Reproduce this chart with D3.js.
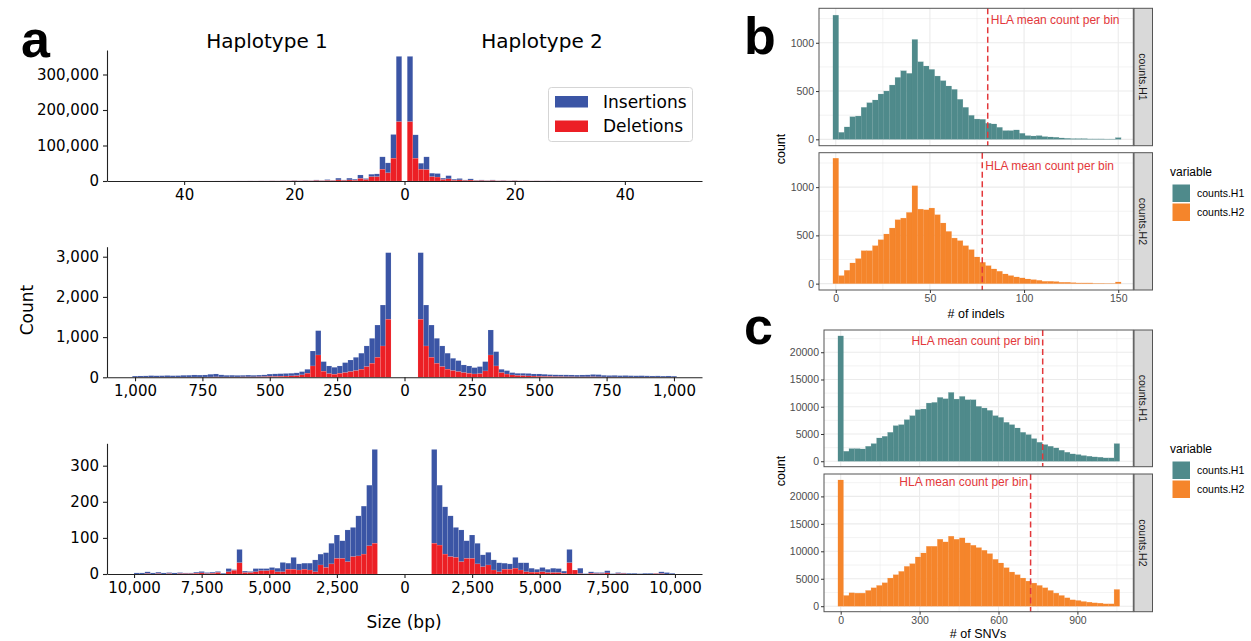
<!DOCTYPE html>
<html>
<head>
<meta charset="utf-8">
<script src="https://cdn.jsdelivr.net/npm/d3@7"></script>
<style>
  body { margin: 0; background: #fff; }
  svg { display: block; }
</style>
</head>
<body>
<svg id="fig" width="1251" height="641"></svg>
<script>
// ---------- panel a : indel size histograms (totals = stacked top, del = red part) ----------
const topSizes = d3.range(1, 41);            // 1 bp bins, centred on the size
const topH1Total = [351000, 131000, 51000, 68000, 20000, 19000, 7000, 17000, 5000, 8000,
  3000, 8000, 2000, 4000, 1500, 3000, 1200, 1500, 800, 1500, 700, 900, 500, 700, 400,
  500, 300, 400, 250, 300, 200, 200, 150, 150, 100, 120, 80, 90, 60, 70];
const topH1Del = [167000, 64000, 23000, 33000, 12000, 12000, 4000, 7000, 2000, 3000,
  1500, 3000, 1000, 1500, 700, 1200, 500, 600, 300, 600, 300, 400, 200, 300, 150,
  200, 100, 150, 100, 100, 80, 80, 60, 60, 40, 50, 30, 40, 20, 30];
const topH2Total = [351000, 130000, 50000, 68000, 22000, 21000, 8000, 15000, 5000, 7000,
  3000, 6000, 2000, 3000, 1500, 3000, 1000, 1500, 800, 1500, 600, 900, 500, 700, 400,
  500, 300, 400, 250, 300, 200, 200, 150, 150, 100, 120, 80, 90, 60, 70];
const topH2Del = [167000, 64000, 33000, 32000, 12000, 11000, 4000, 6000, 2000, 3000,
  1500, 2500, 1000, 1200, 700, 1200, 500, 600, 300, 600, 300, 400, 200, 300, 150,
  200, 100, 150, 100, 100, 80, 80, 60, 60, 40, 50, 30, 40, 20, 30];

const midStarts = d3.range(50, 1000, 20);    // 20 bp bins, 50..1010
const midH1Total = [3100, 1798, 1300, 970, 780, 600, 497, 430, 365, 282, 249, 282, 390, 1160, 654,
  199, 141, 110, 100, 95, 90, 85, 80, 60, 55, 50, 55, 50, 48, 52, 50, 60, 83, 75, 58, 55,
  58, 52, 50, 42, 40, 45, 40, 38, 42, 35, 33, 30];
const midH1Del = [1443, 779, 497, 348, 265, 200, 166, 141, 116, 99, 75, 90, 150, 555, 282,
  100, 60, 40, 35, 30, 25, 20, 20, 15, 12, 10, 10, 10, 8, 8, 8, 8, 10, 8, 6, 6,
  6, 5, 5, 4, 4, 4, 4, 3, 3, 3, 3, 3];
const midH2Total = [3100, 1798, 1300, 970, 780, 600, 473, 415, 307, 282, 241, 266, 390, 1177, 638,
  199, 166, 116, 99, 99, 95, 83, 83, 75, 66, 62, 60, 60, 58, 55, 58, 60, 70, 66, 50, 45,
  48, 42, 45, 40, 38, 40, 36, 33, 35, 30, 33, 28];
const midH2Del = [1443, 779, 497, 348, 265, 200, 166, 141, 116, 99, 83, 90, 158, 555, 282,
  116, 80, 58, 45, 40, 35, 30, 25, 20, 20, 15, 15, 12, 12, 10, 10, 10, 12, 10, 8, 8,
  8, 6, 6, 6, 5, 5, 5, 5, 5, 4, 4, 4];

const lowStarts = d3.range(1000, 10000, 200); // 200 bp bins, 1000..10000
const lowH1Total = [345, 246, 188, 161, 129, 122, 92, 108, 85, 59, 55, 39, 30, 30, 28, 46, 30, 32,
  16, 18, 15, 15, 15, 7, 8, 68, 12, 15, 2, 7, 5, 4, 7, 5, 3, 3, 4, 3, 4, 3, 5, 3, 6, 3, 3];
const lowH1Del = [85, 78, 55, 50, 48, 34, 43, 43, 28, 18, 25, 6, 11, 13, 11, 13, 13, 6,
  6, 11, 9, 9, 6, 4, 4, 31, 10, 6, 0, 4, 2, 1, 3, 2, 1, 1, 1, 0, 1, 0, 1, 0, 1, 0, 0];
const lowH2Total = [345, 246, 186, 161, 129, 122, 92, 108, 85, 53, 60, 39, 31, 30, 28, 46, 31, 31,
  16, 13, 18, 13, 16, 15, 8, 68, 11, 16, 1, 6, 4, 4, 9, 1, 4, 3, 2, 2, 1, 2, 2, 2, 6, 4, 2];
const lowH2Del = [85, 80, 55, 48, 46, 34, 43, 43, 28, 20, 25, 11, 6, 13, 13, 16, 11, 6,
  5, 5, 6, 4, 4, 4, 2, 31, 11, 1, 0, 2, 1, 1, 3, 0, 1, 1, 0, 0, 0, 0, 0, 1, 1, 0, 0];

const topXTicks = [-40, -20, 0, 20, 40];
const midXTicks = [-1000, -750, -500, -250, 0, 250, 500, 750, 1000];
const lowXTicks = [-10000, -7500, -5000, -2500, 0, 2500, 5000, 7500, 10000];
const topYTicks = [0, 100000, 200000, 300000];
const midYTicks = [0, 1000, 2000, 3000];
const lowYTicks = [0, 100, 200, 300];

// ---------- panels b and c : per-bin counts ----------
const indelBins = d3.range(0, 151, 3);       // binwidth 3
const indelH1 = [1286, 72, 128, 234, 241, 331, 379, 407, 469, 500, 562, 641, 710, 683, 1034, 803,
  759, 724, 655, 607, 552, 517, 414, 331, 248, 210, 207, 166, 159, 124, 90, 90, 97, 62, 38, 34,
  38, 28, 24, 21, 14, 10, 7, 7, 7, 4, 4, 4, 3, 3, 17];
const indelH2 = [1300, 83, 138, 214, 259, 341, 341, 393, 455, 514, 576, 662, 679, 738, 1014, 772,
  765, 783, 714, 628, 541, 472, 445, 393, 352, 276, 221, 186, 152, 128, 100, 83, 69, 59, 48, 41,
  34, 24, 24, 21, 14, 14, 10, 7, 7, 7, 4, 4, 3, 3, 17];
const snvBins = d3.range(0, 1051, 21);       // binwidth 21
const snvH1 = [22990, 1829, 2317, 2317, 2256, 2744, 3232, 4269, 4573, 5305, 6525, 6708, 7622, 8354,
  9452, 9574, 10671, 10793, 11708, 11464, 12623, 11403, 11891, 11281, 11281, 10061, 9757, 9330,
  8354, 8049, 7135, 6708, 6098, 5305, 4878, 4147, 3476, 3049, 2744, 2439, 2012, 1646, 1342, 1220,
  1037, 915, 793, 732, 610, 610, 3232];
const snvH2 = [22990, 1951, 2439, 2378, 2378, 2866, 3354, 3781, 4269, 5122, 5732, 6342, 7257, 7745,
  8964, 9696, 10915, 10915, 12196, 11708, 12745, 12196, 12440, 11525, 11098, 10672, 10184, 9574,
  8537, 7867, 7013, 6220, 5732, 5122, 4574, 4208, 3781, 3354, 2866, 2378, 1951, 1525, 1159, 1037,
  854, 732, 610, 549, 427, 427, 3049];
const hlaIndel = [80.7, 77.8];
const hlaSnv = [768, 722];
const facetNames = ["counts.H1", "counts.H2"];

const BLUE = "#3b55a5", RED = "#ec1f25", TEAL = "#4f8a8b", ORANGE = "#f5852b", HLA = "#e3383b";
const svg = d3.select("#fig");
const MPL = "DejaVu Sans", GG = "Liberation Sans, Arial, sans-serif";

// ---------- panel a ----------
function mirrorPanel(o) {
  const x = d3.scaleLinear().domain([-o.xmax, o.xmax]).range([107, 702]);
  const y = d3.scaleLinear().domain([0, o.ymax]).range([o.bottom, o.top]);
  const rows = [];
  o.starts.forEach((lo, i) => {
    rows.push({ x0: -(lo + o.w), x1: -lo, del: o.h1Del[i], tot: o.h1Tot[i] });
    rows.push({ x0: lo, x1: lo + o.w, del: o.h2Del[i], tot: o.h2Tot[i] });
  });
  const g = svg.append("g");
  g.selectAll("rect.ins").data(rows).join("rect")
    .attr("x", d => x(d.x0)).attr("width", d => x(d.x1) - x(d.x0))
    .attr("y", d => y(d.tot)).attr("height", d => y(d.del) - y(d.tot))
    .attr("fill", BLUE).attr("stroke", "rgba(255,255,255,0.25)").attr("stroke-width", 0.4);
  g.selectAll("rect.del").data(rows).join("rect")
    .attr("x", d => x(d.x0)).attr("width", d => x(d.x1) - x(d.x0))
    .attr("y", d => y(d.del)).attr("height", d => y(0) - y(d.del))
    .attr("fill", RED).attr("stroke", "rgba(255,255,255,0.25)").attr("stroke-width", 0.4);

  const ya = svg.append("g").attr("transform", `translate(107,0)`)
    .call(d3.axisLeft(y).tickValues(o.yTicks).tickFormat(d3.format(",")).tickSize(4).tickPadding(4).tickSizeOuter(0));
  const xa = svg.append("g").attr("transform", `translate(0,${o.bottom})`)
    .call(d3.axisBottom(x).tickValues(o.xTicks).tickFormat(d => d3.format(",")(Math.abs(d))).tickSize(4).tickPadding(4).tickSizeOuter(0));
  [ya, xa].forEach(a => {
    a.selectAll("text").attr("font-family", MPL).attr("font-size", 15).attr("fill", "#000");
    a.selectAll("line,path").attr("stroke", "#222").attr("stroke-width", 1.1);
  });
}

mirrorPanel({ xmax: 54, ymax: 369000, top: 50, bottom: 181, starts: topSizes.map(s => s - 0.5), w: 1,
  h1Tot: topH1Total, h1Del: topH1Del, h2Tot: topH2Total, h2Del: topH2Del, xTicks: topXTicks, yTicks: topYTicks });
mirrorPanel({ xmax: 1104, ymax: 3249, top: 246.7, bottom: 377.3, starts: midStarts, w: 20,
  h1Tot: midH1Total, h1Del: midH1Del, h2Tot: midH2Total, h2Del: midH2Del, xTicks: midXTicks, yTicks: midYTicks });
mirrorPanel({ xmax: 11000, ymax: 362, top: 443.3, bottom: 574, starts: lowStarts, w: 200,
  h1Tot: lowH1Total, h1Del: lowH1Del, h2Tot: lowH2Total, h2Del: lowH2Del, xTicks: lowXTicks, yTicks: lowYTicks });

svg.append("text").attr("x", 267).attr("y", 48).attr("text-anchor", "middle")
  .attr("font-family", MPL).attr("font-size", 20).text("Haplotype 1");
svg.append("text").attr("x", 542).attr("y", 48).attr("text-anchor", "middle")
  .attr("font-family", MPL).attr("font-size", 20).text("Haplotype 2");
svg.append("text").attr("transform", "translate(33,310) rotate(-90)").attr("text-anchor", "middle")
  .attr("font-family", MPL).attr("font-size", 17).text("Count");
svg.append("text").attr("x", 404).attr("y", 628).attr("text-anchor", "middle")
  .attr("font-family", MPL).attr("font-size", 17).text("Size (bp)");

const leg = svg.append("g");
leg.append("rect").attr("x", 548.5).attr("y", 87.5).attr("width", 144).attr("height", 54).attr("rx", 3)
  .attr("fill", "#fff").attr("stroke", "#d5d5d5");
[["Insertions", BLUE], ["Deletions", RED]].forEach(([t, c], i) => {
  leg.append("rect").attr("x", 555).attr("y", 96 + i * 24.5).attr("width", 33).attr("height", 11.5).attr("fill", c);
  leg.append("text").attr("x", 603).attr("y", 107.5 + i * 24.5).attr("font-family", MPL).attr("font-size", 17).text(t);
});

// ---------- panels b, c ----------
function facet(o) {
  const g = svg.append("g");
  const y = d3.scaleLinear().domain(o.yDomain).range([o.y1, o.y0]);
  const x = o.x;
  const [x0, x1] = x.range();
  const grid = g.append("g").attr("stroke", "#ebebeb");
  grid.selectAll("line.xm").data(o.xMinor).join("line").attr("x1", d => x(d)).attr("x2", d => x(d))
    .attr("y1", o.y0).attr("y2", o.y1).attr("stroke-width", 0.6);
  grid.selectAll("line.ym").data(o.yMinor).join("line").attr("y1", d => y(d)).attr("y2", d => y(d))
    .attr("x1", x0).attr("x2", x1).attr("stroke-width", 0.6);
  grid.selectAll("line.xM").data(o.xMajor).join("line").attr("x1", d => x(d)).attr("x2", d => x(d))
    .attr("y1", o.y0).attr("y2", o.y1).attr("stroke-width", 1.1);
  grid.selectAll("line.yM").data(o.yMajor).join("line").attr("y1", d => y(d)).attr("y2", d => y(d))
    .attr("x1", x0).attr("x2", x1).attr("stroke-width", 1.1);

  g.selectAll("rect.bar").data(o.bins).join("rect")
    .attr("x", d => x(d - o.w / 2)).attr("width", x(o.w) - x(0))
    .attr("y", (d, i) => y(o.values[i])).attr("height", (d, i) => y(0) - y(o.values[i]))
    .attr("fill", o.color).attr("stroke", o.color).attr("stroke-opacity", 0.35).attr("stroke-width", 0.4);

  g.append("line").attr("x1", x(o.vline)).attr("x2", x(o.vline)).attr("y1", o.y0).attr("y2", o.y1)
    .attr("stroke", HLA).attr("stroke-width", 1.5).attr("stroke-dasharray", "6,3.5");
  g.append("text").attr("x", x(o.vline) + o.labelDx).attr("y", o.labelY)
    .attr("text-anchor", o.labelDx > 0 ? "start" : "end")
    .attr("font-family", GG).attr("font-size", 12).attr("fill", HLA).text("HLA mean count per bin");

  g.append("rect").attr("x", x0).attr("y", o.y0).attr("width", x1 - x0).attr("height", o.y1 - o.y0)
    .attr("fill", "none").attr("stroke", "#555").attr("stroke-width", 1);
  g.append("rect").attr("x", 1134).attr("y", o.y0).attr("width", 18.5).attr("height", o.y1 - o.y0)
    .attr("fill", "#d9d9d9").attr("stroke", "#555").attr("stroke-width", 1);
  g.append("text").attr("transform", `translate(1139.3,${(o.y0 + o.y1) / 2}) rotate(90)`)
    .attr("text-anchor", "middle").attr("font-family", GG).attr("font-size", 10.5).attr("fill", "#1a1a1a")
    .text(o.strip);

  const ya = svg.append("g").attr("transform", `translate(${x0},0)`)
    .call(d3.axisLeft(y).tickValues(o.yMajor).tickFormat(d3.format("d")).tickSize(3).tickPadding(2));
  ya.select(".domain").remove();
  ya.selectAll("line").attr("stroke", "#333");
  ya.selectAll("text").attr("font-family", GG).attr("font-size", 10.5).attr("fill", "#4d4d4d");
  if (o.showX) {
    const xa = svg.append("g").attr("transform", `translate(0,${o.y1})`)
      .call(d3.axisBottom(x).tickValues(o.xMajor).tickFormat(d3.format("d")).tickSize(3).tickPadding(2));
    xa.select(".domain").remove();
    xa.selectAll("line").attr("stroke", "#333");
    xa.selectAll("text").attr("font-family", GG).attr("font-size", 10.5).attr("fill", "#4d4d4d");
  }
}

const xIndel = d3.scaleLinear().domain([-8.9, 158]).range([819, 1133.3]);
const xSnv = d3.scaleLinear().domain([-63.5, 1112.5]).range([824, 1133.3]);
const bPanels = [[8.3, 145.7], [152.7, 290]];
const cPanels = [[330, 466.7], [474, 611.7]];
[indelH1, indelH2].forEach((vals, i) => facet({
  x: xIndel, yDomain: [-66, 1357], y0: bPanels[i][0], y1: bPanels[i][1], bins: indelBins, w: 3, values: vals,
  color: i ? ORANGE : TEAL, vline: hlaIndel[i], labelDx: 3, labelY: i ? 170 : 24, strip: facetNames[i],
  xMajor: [0, 50, 100, 150], xMinor: [25, 75, 125], yMajor: [0, 500, 1000], yMinor: [250, 750, 1250], showX: i === 1
}));
[snvH1, snvH2].forEach((vals, i) => facet({
  x: xSnv, yDomain: [-1000, 24080], y0: cPanels[i][0], y1: cPanels[i][1], bins: snvBins, w: 21, values: vals,
  color: i ? ORANGE : TEAL, vline: hlaSnv[i], labelDx: -2.5, labelY: i ? 486 : 345, strip: facetNames[i],
  xMajor: [0, 300, 600, 900], xMinor: [150, 450, 750, 1050], yMajor: [0, 5000, 10000, 15000, 20000],
  yMinor: [2500, 7500, 12500, 17500, 22500], showX: i === 1
}));

function ggText(x, y, t, size, rot) {
  svg.append("text").attr("transform", `translate(${x},${y})` + (rot ? " rotate(-90)" : ""))
    .attr("text-anchor", "middle").attr("font-family", GG).attr("font-size", size).attr("fill", "#000").text(t);
}
ggText(976, 318, "# of indels", 12.5);
ggText(978, 638, "# of SNVs", 12.5);
ggText(785, 149, "count", 12.5, true);
ggText(785, 471, "count", 12.5, true);

function ggLegend(top) {
  svg.append("text").attr("x", 1170).attr("y", top).attr("font-family", GG).attr("font-size", 12).text("variable");
  [TEAL, ORANGE].forEach((c, i) => {
    svg.append("rect").attr("x", 1172.5).attr("y", top + 8.5 + i * 19).attr("width", 17.5).attr("height", 17.5).attr("fill", c);
    svg.append("text").attr("x", 1197).attr("y", top + 21 + i * 19).attr("font-family", GG).attr("font-size", 10.5)
      .text(facetNames[i]);
  });
}
ggLegend(176);
ggLegend(453);

// panel letters
[["a", 21, 57], ["b", 744, 54], ["c", 744, 344]].forEach(([t, x, y]) => {
  svg.append("text").attr("x", x).attr("y", y).attr("font-family", GG).attr("font-weight", "bold")
    .attr("font-size", 52).text(t);
});
</script>
</body>
</html>
